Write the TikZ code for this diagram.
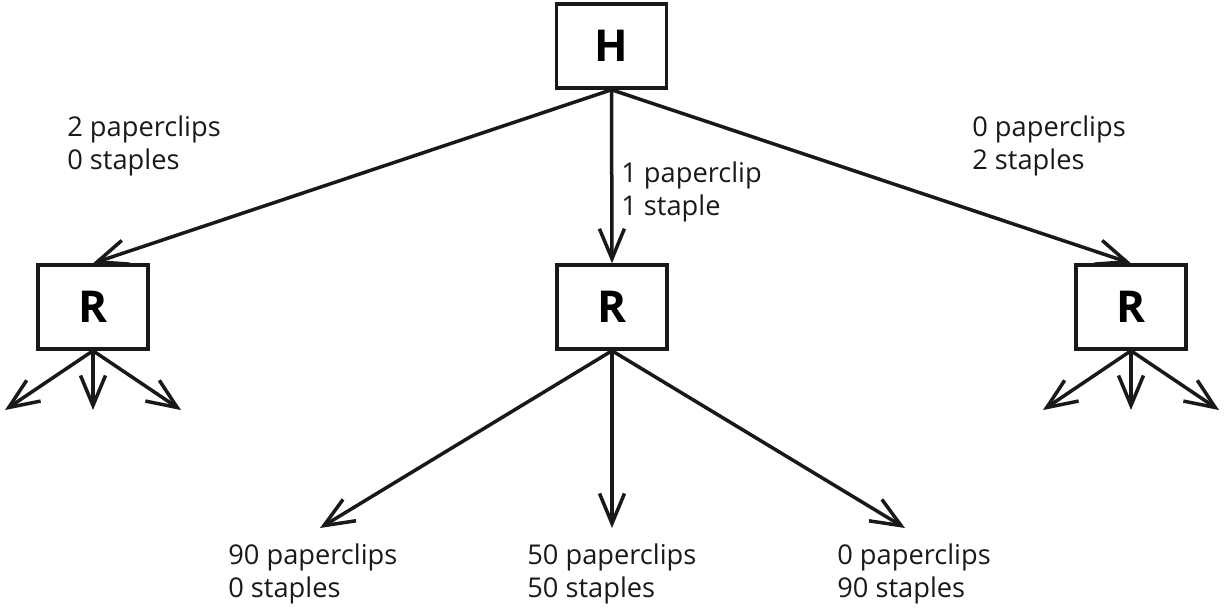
\documentclass[tikz,border=0pt]{standalone}
\usepackage{fontspec}
\setmainfont{Open Sans}
\usetikzlibrary{arrows.meta}
\tikzset{>={Straight Barb[length=0.6cm,width=0.5cm,line width=0.07cm]}}
\tikzset{ed/.style={line width=0.07cm, draw=black!90}}
\tikzset{box/.style={draw=black!90, line width=0.07cm, minimum width=2.2cm, minimum height=1.68cm, inner sep=0pt, font=\fontsize{25}{28}\selectfont\bfseries}}
\tikzset{lbl/.style={anchor=west, align=left, inner sep=0pt, text=black!90, font=\fontsize{15.5}{18.8}\selectfont}}

\begin{document}
\begin{tikzpicture}[x=0.02cm, y=-0.02cm]
\useasboundingbox (0,0) rectangle (1225,613);

\node[box] (H) at (611.5,46) {H};
\node[box] (rl) at (93,307) {R};
\node[box] (rm) at (612,307) {R};
\node[box] (rr) at (1131,307) {R};

\draw[ed,->] (H.south) -- (rl.north);
\draw[ed,->] (H.south) -- (rm.north);
\draw[ed,->] (H.south) -- (rr.north);

\node[lbl] (c1) at (67,146) {2 paperclips\\0 staples};
\node[lbl] (c2) at (621,192) {1 paperclip\\1 staple};
\node[lbl] (c3) at (972,146) {0 paperclips\\2 staples};

% small branches under the outer R
\foreach \dx [count=\i] in {-88,0,88} {
  \coordinate (l\i) at (93+\dx,410);
  \coordinate (r\i) at (1131+\dx,410);
  \draw[ed,->] (rl.south) -- (l\i);
  \draw[ed,->] (rr.south) -- (r\i);
}

% middle R
\coordinate (m1) at (320,528);
\coordinate (m2) at (612,528);
\coordinate (m3) at (905,528);
\draw[ed,->] (rm.south) -- (m1);
\draw[ed,->] (rm.south) -- (m2);
\draw[ed,->] (rm.south) -- (m3);

\node[lbl] (o1) at (228,574) {90 paperclips\\0 staples};
\node[lbl] (o2) at (527,574) {50 paperclips\\50 staples};
\node[lbl] (o3) at (837,574) {0 paperclips\\90 staples};
\end{tikzpicture}
\end{document}
